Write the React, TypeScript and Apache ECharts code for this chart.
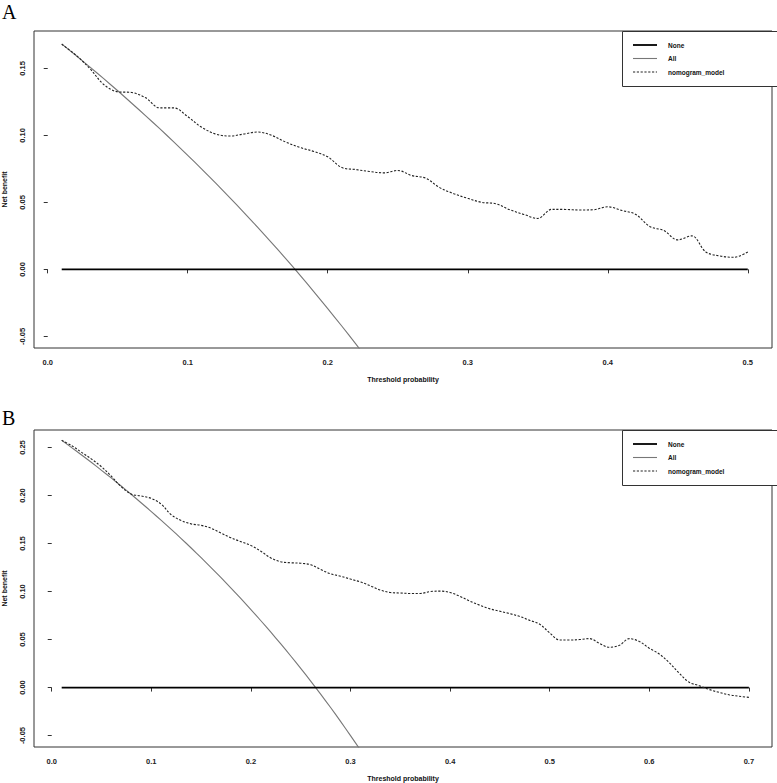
import React, { useEffect, useRef } from "react";
import * as echarts from "echarts";

// ---------- Panel A data ----------
const thresholdsA = [
  0.01, 0.02, 0.03, 0.04, 0.05, 0.06, 0.07, 0.08, 0.09, 0.1,
  0.11, 0.12, 0.13, 0.14, 0.15, 0.16, 0.17, 0.18, 0.19, 0.2,
  0.21, 0.22, 0.23, 0.24, 0.25, 0.26, 0.27, 0.28, 0.29, 0.3,
  0.31, 0.32, 0.33, 0.34, 0.35, 0.36, 0.37, 0.38, 0.39, 0.4,
  0.41, 0.42, 0.43, 0.44, 0.45, 0.46, 0.47, 0.48, 0.49, 0.5,
];
const modelA = [
  0.168, 0.16, 0.15, 0.138, 0.1325, 0.132, 0.128, 0.1205, 0.1205, 0.114,
  0.106, 0.101, 0.0995, 0.101, 0.1025, 0.1, 0.095, 0.091, 0.088, 0.084,
  0.076, 0.0745, 0.073, 0.072, 0.0738, 0.07, 0.068, 0.061, 0.0565, 0.053,
  0.05, 0.049, 0.0445, 0.041, 0.038, 0.0448, 0.0447, 0.0443, 0.0445, 0.0467,
  0.044, 0.041, 0.032, 0.029, 0.022, 0.025, 0.013, 0.01, 0.009, 0.013,
];
const allThresholdsA = [
  0.01, 0.02, 0.03, 0.04, 0.05, 0.06, 0.07, 0.08, 0.09, 0.1, 0.11, 0.12,
  0.13, 0.14, 0.15, 0.16, 0.17, 0.18, 0.19, 0.2, 0.21, 0.22, 0.23,
];
const allA = [
  0.1683, 0.1598, 0.1511, 0.1423, 0.1333, 0.124, 0.1146, 0.105, 0.0952,
  0.0851, 0.0748, 0.0643, 0.0536, 0.0426, 0.0313, 0.0198, 0.008, -0.0041,
  -0.0166, -0.0293, -0.0423, -0.0556, -0.0694,
];
const noneThresholdsA = [0.01, 0.5];
const noneA = [0, 0];
const xTicksA = [0, 0.1, 0.2, 0.3, 0.4, 0.5];
const yTicksA = [-0.05, 0, 0.05, 0.1, 0.15];

// ---------- Panel B data ----------
const thresholdsB = [
  0.01, 0.02, 0.03, 0.04, 0.05, 0.06, 0.07, 0.08, 0.09, 0.1,
  0.11, 0.12, 0.13, 0.14, 0.15, 0.16, 0.17, 0.18, 0.19, 0.2,
  0.21, 0.22, 0.23, 0.24, 0.25, 0.26, 0.27, 0.28, 0.29, 0.3,
  0.31, 0.32, 0.33, 0.34, 0.35, 0.36, 0.37, 0.38, 0.39, 0.4,
  0.41, 0.42, 0.43, 0.44, 0.45, 0.46, 0.47, 0.48, 0.49, 0.5,
  0.51, 0.52, 0.53, 0.54, 0.55, 0.56, 0.57, 0.58, 0.59, 0.6,
  0.61, 0.62, 0.63, 0.64, 0.65, 0.66, 0.67, 0.68, 0.69, 0.7,
];
const modelB = [
  0.2575, 0.252, 0.245, 0.238, 0.23, 0.22, 0.209, 0.2015, 0.1995, 0.197,
  0.191, 0.18, 0.174, 0.1705, 0.169, 0.166, 0.161, 0.156, 0.152, 0.148,
  0.142, 0.135, 0.131, 0.13, 0.1295, 0.128, 0.123, 0.1185, 0.116, 0.113,
  0.11, 0.106, 0.1015, 0.099, 0.0985, 0.098, 0.098, 0.1, 0.1005, 0.099,
  0.095, 0.09, 0.0857, 0.082, 0.0795, 0.077, 0.074, 0.07, 0.066, 0.057,
  0.0495, 0.0495, 0.05, 0.051, 0.046, 0.042, 0.044, 0.051, 0.048, 0.041,
  0.035, 0.026, 0.015, 0.0055, 0.002, -0.002, -0.005, -0.0075, -0.009, -0.0102,
];
const allThresholdsB = [
  0.01, 0.02, 0.03, 0.04, 0.05, 0.06, 0.07, 0.08, 0.09, 0.1, 0.11,
  0.12, 0.13, 0.14, 0.15, 0.16, 0.17, 0.18, 0.19, 0.2, 0.21, 0.22,
  0.23, 0.24, 0.25, 0.26, 0.27, 0.28, 0.29, 0.3, 0.31, 0.32,
];
const allB = [
  0.2576, 0.25, 0.2423, 0.2344, 0.2263, 0.2181, 0.2097, 0.2011, 0.1923,
  0.1833, 0.1742, 0.1648, 0.1552, 0.1454, 0.1353, 0.125, 0.1145, 0.1037,
  0.0926, 0.0813, 0.0696, 0.0577, 0.0455, 0.0329, 0.02, 0.0068, -0.0068,
  -0.0208, -0.0352, -0.05, -0.0652, -0.0809,
];
const noneThresholdsB = [0.01, 0.7];
const noneB = [0, 0];
const xTicksB = [0, 0.1, 0.2, 0.3, 0.4, 0.5, 0.6, 0.7];
const yTicksB = [-0.05, 0, 0.05, 0.1, 0.15, 0.2, 0.25];

const legendNames = ["None", "All", "nomogram_model"];
const panelLabels = ["A", "B"];
const xTitle = "Threshold probability";
const yTitle = "Net benefit";

const SANS = '"Liberation Sans", Arial, Helvetica, sans-serif';
const SERIF = '"Liberation Serif", "Times New Roman", serif';

const pairs = (xs: number[], ys: number[]) => xs.map((x, i) => [x, ys[i]]);

const makeX = (gridIndex: number, min: number, max: number, ticks: number[]) => ({
  type: "value",
  gridIndex,
  min,
  max,
  axisLine: { show: false },
  axisTick: {
    show: true,
    length: 4,
    customValues: ticks,
    lineStyle: { color: "#333", width: 1 },
  },
  axisLabel: {
    customValues: ticks,
    formatter: (v: number) => v.toFixed(1),
    fontSize: 7.5,
    fontWeight: "bold",
    fontFamily: SANS,
    color: "#222",
    margin: 10,
  },
  splitLine: { show: false },
  name: xTitle,
  nameLocation: "middle",
  nameGap: 28,
  nameTextStyle: { fontSize: 7, fontWeight: "bold", fontFamily: SANS, color: "#111" },
});

const makeY = (gridIndex: number, min: number, max: number, ticks: number[]) => ({
  type: "value",
  gridIndex,
  min,
  max,
  axisLine: { show: false },
  axisTick: {
    show: true,
    length: 4,
    customValues: ticks,
    lineStyle: { color: "#333", width: 1 },
  },
  axisLabel: {
    customValues: ticks,
    formatter: (v: number) => v.toFixed(2),
    fontSize: 7.5,
    fontWeight: "bold",
    fontFamily: SANS,
    color: "#222",
    rotate: 90,
    margin: 8,
  },
  splitLine: { show: false },
  name: yTitle,
  nameLocation: "middle",
  nameGap: 26,
  nameTextStyle: { fontSize: 7, fontWeight: "bold", fontFamily: SANS, color: "#111" },
});

const seriesFor = (
  idx: number,
  noneX: number[],
  noneY: number[],
  allX: number[],
  allY: number[],
  modX: number[],
  modY: number[]
) => [
  {
    name: legendNames[0],
    type: "line",
    xAxisIndex: idx,
    yAxisIndex: idx,
    data: pairs(noneX, noneY),
    showSymbol: false,
    lineStyle: { color: "#000", width: 1.8 },
    z: 3,
  },
  {
    name: legendNames[1],
    type: "line",
    xAxisIndex: idx,
    yAxisIndex: idx,
    data: pairs(allX, allY),
    showSymbol: false,
    smooth: 0.2,
    clip: true,
    lineStyle: { color: "#777", width: 1.1 },
    z: 2,
  },
  {
    name: legendNames[2],
    type: "line",
    xAxisIndex: idx,
    yAxisIndex: idx,
    data: pairs(modX, modY),
    showSymbol: false,
    smooth: 0.35,
    clip: true,
    lineStyle: { color: "#222", width: 1.1, type: [2.2, 1.6] },
    z: 4,
  },
];

const legendGraphic = (top: number) => {
  const items: any[] = [
    {
      type: "rect",
      shape: { x: 622.5, y: top + 0.5, width: 155, height: 55 },
      style: { fill: "#fff", stroke: "#333", lineWidth: 1 },
      z: 100,
    },
  ];
  const styles = [
    { stroke: "#000", lineWidth: 1.8 },
    { stroke: "#777", lineWidth: 1.1 },
    { stroke: "#222", lineWidth: 1.1, lineDash: [2.2, 1.6] },
  ];
  legendNames.forEach((n, i) => {
    const y = top + 14 + i * 13.5;
    items.push({
      type: "line",
      shape: { x1: 633, y1: y, x2: 657, y2: y },
      style: styles[i],
      z: 101,
    });
    items.push({
      type: "text",
      x: 668,
      y,
      style: {
        text: n,
        fontSize: 6.5,
        fontWeight: "bold",
        fontFamily: SANS,
        fill: "#111",
        textAlign: "left",
        textVerticalAlign: "middle",
      },
      z: 101,
    });
  });
  return items;
};

export default function App() {
  const ref = useRef<HTMLDivElement>(null);
  useEffect(() => {
    document.body.style.margin = "0";
    const chart = echarts.init(ref.current!, null, { renderer: "svg" });
    const gridBase = {
      left: 34,
      width: 738,
      height: 317,
      show: true,
      borderColor: "#333",
      borderWidth: 1,
      backgroundColor: "transparent",
      containLabel: false,
      outerBoundsMode: "none",
    };
    const option: any = {
      animation: false,
      backgroundColor: "#fff",
      grid: [
        { ...gridBase, top: 31 },
        { ...gridBase, top: 430 },
      ],
      xAxis: [makeX(0, -0.0098, 0.5173, xTicksA), makeX(1, -0.0178, 0.7232, xTicksB)],
      yAxis: [makeY(0, -0.0587, 0.1779, yTicksA), makeY(1, -0.0619, 0.2683, yTicksB)],
      series: [
        ...seriesFor(0, noneThresholdsA, noneA, allThresholdsA, allA, thresholdsA, modelA),
        ...seriesFor(1, noneThresholdsB, noneB, allThresholdsB, allB, thresholdsB, modelB),
      ],
      graphic: [
        {
          type: "text",
          x: 2,
          y: 12,
          style: { text: panelLabels[0], fontSize: 20, fontFamily: SERIF, fill: "#000", textAlign: "left", textVerticalAlign: "middle" },
        },
        {
          type: "text",
          x: 2,
          y: 418,
          style: { text: panelLabels[1], fontSize: 20, fontFamily: SERIF, fill: "#000", textAlign: "left", textVerticalAlign: "middle" },
        },
        ...legendGraphic(31),
        ...legendGraphic(430),
      ],
    };
    chart.setOption(option);
    return () => chart.dispose();
  }, []);
  return <div ref={ref} style={{ width: 777, height: 783 }} />;
}
